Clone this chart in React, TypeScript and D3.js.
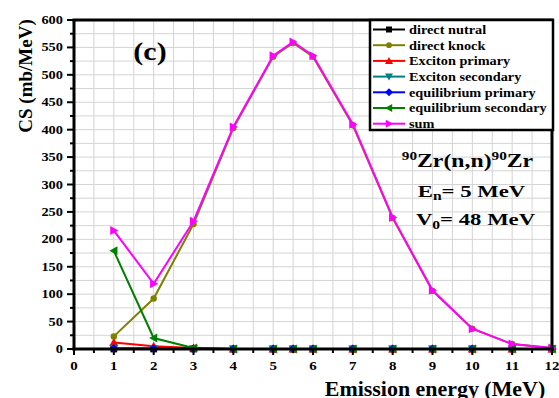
import React from "react";
import * as d3 from "d3";

const energies = [1, 2, 3, 4, 5, 5.5, 6, 7, 8, 9, 10, 11, 12];
const directNutral = [0, 0, 0, 0, 0, 0, 0, 0, 0, 0, 0, 0, 0];
const directKnock = [23, 92, 228, 403, 533, 558, 533, 408, 239, 106, 37, 9, 2];
const excitonPrimary = [12, 5, 2, 0, 0, 0, 0, 0, 0, 0, 0, 0, 0];
const excitonSecondary = [1, 0.5, 0.2, 0, 0, 0, 0, 0, 0, 0, 0, 0, 0];
const equilibriumPrimary = [1, 1, 0.5, 0, 0, 0, 0, 0, 0, 0, 0, 0, 0];
const equilibriumSecondary = [179, 20, 2, 0, 0, 0, 0, 0, 0, 0, 0, 0, 0];
const sum = [216, 119, 233, 405, 535, 560, 535, 410, 240, 107, 37, 9, 2];

const xTicks = [0, 1, 2, 3, 4, 5, 6, 7, 8, 9, 10, 11, 12];
const yTicks = [0, 50, 100, 150, 200, 250, 300, 350, 400, 450, 500, 550, 600];

type Shape = "square" | "circle" | "up" | "down" | "diamond" | "left" | "right";

const series: { name: string; values: number[]; color: string; shape: Shape }[] = [
  { name: "direct nutral", values: directNutral, color: "#000000", shape: "square" },
  { name: "direct knock", values: directKnock, color: "#808000", shape: "circle" },
  { name: "Exciton primary", values: excitonPrimary, color: "#ff0000", shape: "up" },
  { name: "Exciton secondary", values: excitonSecondary, color: "#008080", shape: "down" },
  { name: "equilibrium primary", values: equilibriumPrimary, color: "#0000ff", shape: "diamond" },
  { name: "equilibrium secondary", values: equilibriumSecondary, color: "#008000", shape: "left" },
  { name: "sum", values: sum, color: "#ff00ff", shape: "right" },
];

const W = 559;
const H = 398;
const M = { left: 74, right: 552, top: 20, bottom: 349 };
const FONT = "Liberation Serif, Times New Roman, serif";

function Marker({ shape, x, y, color, s = 4.5 }: { shape: Shape; x: number; y: number; color: string; s?: number }) {
  switch (shape) {
    case "square":
      return <rect x={x - s * 0.75} y={y - s * 0.75} width={s * 1.5} height={s * 1.5} fill={color} />;
    case "circle":
      return <circle cx={x} cy={y} r={s * 0.72} fill={color} />;
    case "up":
      return <polygon points={`${x},${y - s} ${x + s},${y + s * 0.8} ${x - s},${y + s * 0.8}`} fill={color} />;
    case "down":
      return <polygon points={`${x},${y + s} ${x + s},${y - s * 0.8} ${x - s},${y - s * 0.8}`} fill={color} />;
    case "diamond":
      return <polygon points={`${x},${y - s} ${x + s},${y} ${x},${y + s} ${x - s},${y}`} fill={color} />;
    case "left":
      return <polygon points={`${x - s},${y} ${x + s * 0.8},${y - s} ${x + s * 0.8},${y + s}`} fill={color} />;
    case "right":
      return <polygon points={`${x + s},${y} ${x - s * 0.8},${y - s} ${x - s * 0.8},${y + s}`} fill={color} />;
  }
}

// Bold serif text, widened horizontally around its anchor point
function Wide({
  x,
  y,
  sx,
  size,
  anchor = "middle",
  children,
}: {
  x: number;
  y: number;
  sx: number;
  size: number;
  anchor?: "start" | "middle" | "end";
  children: React.ReactNode;
}) {
  return (
    <text
      transform={`translate(${x},${y}) scale(${sx},1)`}
      textAnchor={anchor}
      fontWeight="bold"
      fontSize={size}
      fill="#000"
    >
      {children}
    </text>
  );
}

export default function App() {
  const x = d3.scaleLinear().domain([0, 12]).range([M.left, M.right]);
  const y = d3.scaleLinear().domain([0, 600]).range([M.bottom, M.top]);
  const line = d3
    .line<[number, number]>()
    .x((d) => x(d[0]))
    .y((d) => y(d[1]));

  const xGrid = d3.range(0.5, 12, 0.5);
  const yGrid = d3.range(25, 600, 25);
  const xMinor = d3.range(0.5, 12, 1);
  const yMinor = d3.range(25, 600, 50);

  const legX = 370;
  const legY = 20;
  const legW = 183;
  const legH = 110;
  const rowH = 15.7;

  return (
    <svg
      width={W}
      height={H}
      style={{ position: "absolute", left: 0, top: 0, background: "#fff", fontFamily: FONT }}
    >
      {/* grid */}
      <g stroke="#d4d4d4" strokeWidth={1}>
        {xGrid.map((v) => (
          <line key={"gx" + v} x1={x(v)} x2={x(v)} y1={M.top} y2={M.bottom} />
        ))}
        {yGrid.map((v) => (
          <line key={"gy" + v} x1={M.left} x2={M.right} y1={y(v)} y2={y(v)} />
        ))}
      </g>

      {/* series */}
      {series.map((s) => {
        const pts = energies.map((e, i) => [e, s.values[i]] as [number, number]);
        return (
          <g key={s.name}>
            <path d={line(pts) ?? ""} fill="none" stroke={s.color} strokeWidth={2} />
            {pts.map((p, i) => (
              <Marker key={i} shape={s.shape} x={x(p[0])} y={y(p[1])} color={s.color} />
            ))}
          </g>
        );
      })}

      {/* axes frame */}
      <g stroke="#000" fill="none">
        <line x1={M.left} x2={M.left} y1={M.top - 1} y2={M.bottom + 1.5} strokeWidth={3} />
        <line x1={M.left - 1.5} x2={M.right + 1.5} y1={M.bottom} y2={M.bottom} strokeWidth={3} />
        <line x1={M.left - 1.5} x2={M.right + 1.5} y1={M.top} y2={M.top} strokeWidth={3} />
        <line x1={M.right} x2={M.right} y1={M.top - 1} y2={M.bottom + 1.5} strokeWidth={3} />
      </g>

      {/* ticks */}
      <g stroke="#000" strokeWidth={2}>
        {yTicks.map((v) => (
          <line key={"ty" + v} x1={M.left - 7} x2={M.left} y1={y(v)} y2={y(v)} />
        ))}
        {yMinor.map((v) => (
          <line key={"tym" + v} x1={M.left - 4} x2={M.left} y1={y(v)} y2={y(v)} />
        ))}
        {xTicks.map((v) => (
          <line key={"tx" + v} x1={x(v)} x2={x(v)} y1={M.bottom} y2={M.bottom + 6} />
        ))}
        {xMinor.map((v) => (
          <line key={"txm" + v} x1={x(v)} x2={x(v)} y1={M.bottom} y2={M.bottom + 4} />
        ))}
      </g>

      {/* tick labels */}
      {yTicks.map((v) => (
        <Wide key={"ly" + v} x={M.left - 11} y={y(v) + 4} sx={1.2} size={12} anchor="end">
          {v}
        </Wide>
      ))}
      {xTicks.map((v) => (
        <Wide key={"lx" + v} x={x(v)} y={M.bottom + 21} sx={1.15} size={13}>
          {v}
        </Wide>
      ))}

      {/* axis titles */}
      <text
        transform={`translate(32,${76}) rotate(-90)`}
        textAnchor="middle"
        fontWeight="bold"
        fontSize={19}
        fill="#000"
      >
        CS (mb/MeV)
      </text>
      <Wide x={435} y={396} sx={1.07} size={20.5}>
        Emission energy (MeV)
      </Wide>

      {/* panel label and reaction info */}
      <Wide x={150} y={60} sx={1.2} size={25}>
        (c)
      </Wide>
      <Wide x={467.5} y={166.5} sx={1.32} size={18}>
        <tspan fontSize={11.5} dy="-7">90</tspan>
        <tspan dy="7">Zr(n,n)</tspan>
        <tspan fontSize={11.5} dy="-7">90</tspan>
        <tspan dy="7">Zr</tspan>
      </Wide>
      <Wide x={471.5} y={196.5} sx={1.3} size={17.5}>
        <tspan>E</tspan>
        <tspan fontSize={12} dy="3">n</tspan>
        <tspan dy="-3">= 5 MeV</tspan>
      </Wide>
      <Wide x={475.5} y={225} sx={1.3} size={17.5}>
        <tspan>V</tspan>
        <tspan fontSize={12} dy="4">0</tspan>
        <tspan dy="-4">= 48 MeV</tspan>
      </Wide>

      {/* legend */}
      <rect x={legX} y={legY} width={legW} height={legH} fill="#fff" stroke="#000" strokeWidth={2.5} />
      {series.map((s, i) => {
        const cy = legY + 9.5 + i * rowH;
        return (
          <g key={"leg" + s.name}>
            <line x1={legX + 3} x2={legX + 35} y1={cy} y2={cy} stroke={s.color} strokeWidth={2} />
            <Marker shape={s.shape} x={legX + 19} y={cy} color={s.color} s={4} />
            <Wide x={legX + 39} y={cy + 4.3} sx={1.1} size={13} anchor="start">
              {s.name}
            </Wide>
          </g>
        );
      })}
    </svg>
  );
}
